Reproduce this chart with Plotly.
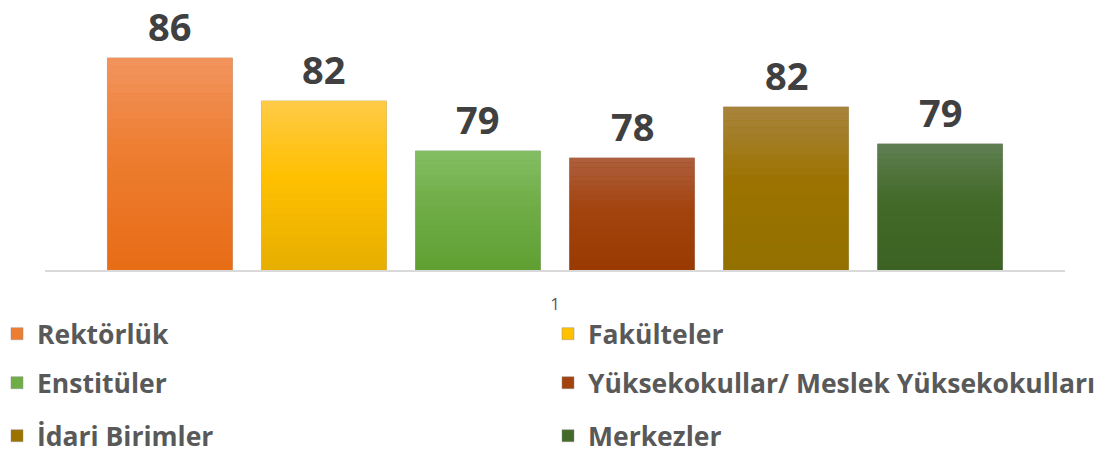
import plotly.graph_objects as go

categories = ["1"]
series_names = ["Rektörlük", "Fakülteler", "Enstitüler",
                "Yüksekokullar/ Meslek Yüksekokulları", "İdari Birimler", "Merkezler"]
series_values = [85.69, 82.38, 78.54, 78.0, 81.92, 79.08]
# gradient stops per series: (top, middle, bottom)
series_top = ["#F2945E", "#FFCA47", "#84BE64", "#AE5F3E", "#A8843F", "#5F7F53"]
series_mid = ["#ED7D31", "#FFC000", "#70AD47", "#A3440F", "#9C7300", "#436A28"]
series_bot = ["#E86C16", "#E6AE00", "#5FA032", "#983A00", "#937000", "#3B6222"]

FONT = "Open Sans"
W, H = 1109, 459
ML, MR, MT, MB = 45, 44, 10, 189
BARGAP = 0.094
GROUPGAP = 0.188
YMIN, YMAX = 69.38, 89.38
NBANDS = 24


def hex2rgb(h):
    h = h.lstrip("#")
    return tuple(int(h[i:i + 2], 16) for i in (0, 2, 4))


def mix(c1, c2, t):
    a, b = hex2rgb(c1), hex2rgb(c2)
    return "rgb(%d,%d,%d)" % tuple(round(a[k] + (b[k] - a[k]) * t) for k in range(3))


def grad(top, mid, bot, t):
    # t = 0 bottom, 1 top
    if t < 0.55:
        return mix(bot, mid, t / 0.55)
    return mix(mid, top, (t - 0.55) / 0.45)


fig = go.Figure()
n = len(series_names)
legend_ids = ["legend", "legend2", "legend3", "legend4", "legend5", "legend6"]
for i, name in enumerate(series_names):
    val = series_values[i]
    og = f"g{i}"
    fig.add_trace(go.Bar(
        x=categories, y=[val], name=name, offsetgroup=og,
        marker=dict(color=series_mid[i], line=dict(width=1, color="rgba(140,140,140,0.45)")),
        legend=legend_ids[i], hoverinfo="name+y",
    ))
    step = (val - YMIN) / NBANDS
    for k in range(NBANDS):
        t = (k + 0.5) / NBANDS
        fig.add_trace(go.Bar(
            x=categories, y=[step * 1.02], base=[YMIN + step * k], offsetgroup=og,
            marker=dict(color=grad(series_top[i], series_mid[i], series_bot[i], t),
                        line=dict(width=0)),
            showlegend=False, hoverinfo="skip", legend=legend_ids[i],
        ))
    slot = (1 - BARGAP) / n
    xc = -(1 - BARGAP) / 2 + (i + 0.5) * slot
    fig.add_annotation(
        x=xc, y=val, xref="x", yref="y", text=f"<b>{round(val)}</b>",
        showarrow=False, yanchor="bottom", yshift=4,
        font=dict(family=FONT, size=38, color="#404040"),
    )

plot_h = H - MT - MB
plot_w = W - ML - MR
rows = [334, 383, 436]
cols_px = [-3, 548]
legend_layout = {}
for i in range(n):
    r, c = divmod(i, 2)
    ypx = rows[r]
    xpx = cols_px[c]
    legend_layout[legend_ids[i]] = dict(
        x=(xpx - ML) / plot_w, xanchor="left",
        y=(H - MB - ypx) / plot_h, yanchor="middle",
        orientation="h", bgcolor="rgba(0,0,0,0)",
        font=dict(family=FONT, size=26.5, color="#595959", weight="bold"),
    )

fig.update_layout(
    width=W, height=H,
    margin=dict(l=ML, r=MR, t=MT, b=MB, autoexpand=False),
    paper_bgcolor="white", plot_bgcolor="white",
    barmode="group", bargap=BARGAP, bargroupgap=GROUPGAP,
    font=dict(family=FONT, color="#595959"),
    showlegend=True,
    xaxis=dict(showline=True, linecolor="#D9D9D9", linewidth=2, showgrid=False,
               ticks="", tickfont=dict(size=17, color="#595959"),
               ticklabelstandoff=18, fixedrange=True),
    yaxis=dict(range=[YMIN, YMAX], visible=False, showgrid=False, fixedrange=True),
    **legend_layout,
)

fig.write_html("out.html", config={"displayModeBar": False},
               post_script="document.body.style.margin='0';")
